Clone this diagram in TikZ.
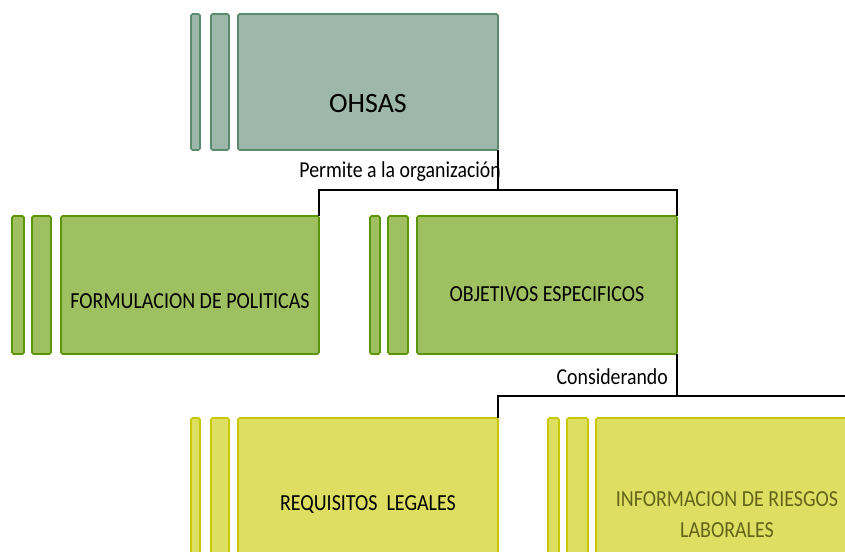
\documentclass[tikz,border=0pt]{standalone}
\usepackage{fontspec}
\setmainfont{Carlito}
\definecolor{ohfill}{RGB}{157,184,171}
\definecolor{ohdraw}{RGB}{92,138,108}
\definecolor{grfill}{RGB}{158,192,96}
\definecolor{grdraw}{RGB}{92,150,8}
\definecolor{yefill}{RGB}{222,223,98}
\definecolor{yedraw}{RGB}{200,200,0}
\definecolor{oltext}{RGB}{100,100,25}
\newcommand{\tallx}[1]{\scalebox{1}[1.15]{#1}}
\begin{document}
\begin{tikzpicture}[x=1pt,y=-1pt,
  boxbase/.style={rounded corners=1.5pt, line width=1.6pt},
  ohbox/.style={boxbase, fill=ohfill, draw=ohdraw},
  grbox/.style={boxbase, fill=grfill, draw=grdraw},
  yebox/.style={boxbase, fill=yefill, draw=yedraw},
  conn/.style={draw=black, line width=1.8pt},
  lbl/.style={font=\fontsize{20}{24}\selectfont, inner sep=0pt, text=black},
  small/.style={font=\fontsize{19.8}{22}\selectfont, inner sep=0pt, text=black}]
\useasboundingbox (0,0) rectangle (845,551);
\begin{scope}
\clip (0,0) rectangle (845,551);
% OHSAS
\path[ohbox] (191,14) rectangle (200,150);
\path[ohbox] (211,14) rectangle (229,150);
\path[ohbox] (238,14) rectangle (498,150);
\node[lbl, font=\fontsize{28}{32}\selectfont] (ohsas) at (368,104) {OHSAS};
\coordinate (ohc) at (498,150);
% FORMULACION
\path[grbox] (12,216) rectangle (24,354);
\path[grbox] (32,216) rectangle (51,354);
\path[grbox] (61,216) rectangle (319,354);
\node[lbl] (form) at (190,301) {\tallx{FORMULACION DE POLITICAS}};
\coordinate (formc) at (319,216);
% OBJETIVOS
\path[grbox] (370,216) rectangle (380,354);
\path[grbox] (388,216) rectangle (408,354);
\path[grbox] (417,216) rectangle (677,354);
\node[lbl] (obj) at (547,294) {\tallx{OBJETIVOS ESPECIFICOS}};
\coordinate (objc) at (677,216);
\coordinate (objb) at (677,354);
% REQUISITOS
\path[yebox] (191,418) rectangle (200,560);
\path[yebox] (211,418) rectangle (229,560);
\path[yebox] (238,418) rectangle (498,560);
\node[lbl] (req) at (368,505) {\tallx{REQUISITOS\ \ LEGALES}};
\coordinate (reqc) at (498,418);
% INFORMACION
\path[yebox] (548,418) rectangle (559,560);
\path[yebox] (567,418) rectangle (588,560);
\path[yebox] (596,418) rectangle (856,560);
\node[lbl, text=oltext] (info1) at (727,499) {\tallx{INFORMACION DE RIESGOS}};
\node[lbl, text=oltext] (info2) at (727,530) {\tallx{LABORALES}};
% connectors
\coordinate (j1) at (498,190);
\draw[conn] (ohc) -- (j1);
\draw[conn] (formc) |- (j1) -| (objc);
\coordinate (j2) at (677,396);
\coordinate (j2r) at (850,396);
\draw[conn] (objb) -- (j2);
\draw[conn] (reqc) |- (j2r);
\node[small, anchor=east] (perm) at (501,172) {\tallx{Permite a la organización}};
\node[small, anchor=east] (cons) at (668,377) {\tallx{Considerando}};
\end{scope}
\end{tikzpicture}
\end{document}
